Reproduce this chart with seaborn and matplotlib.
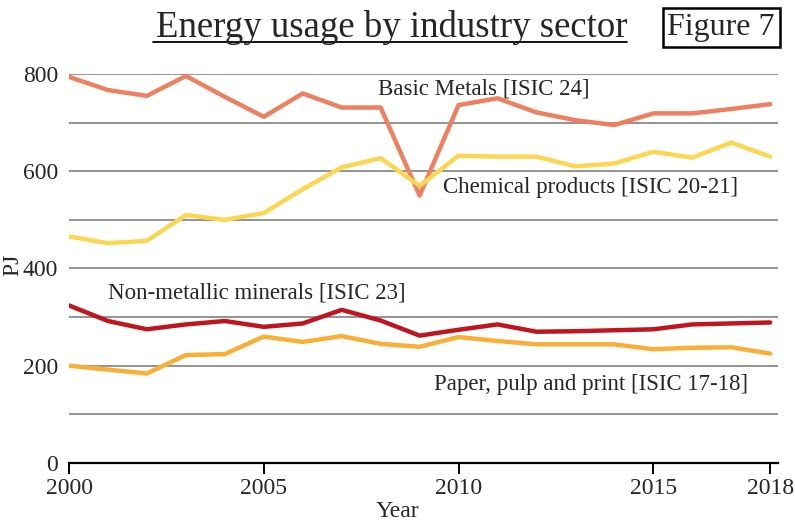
import matplotlib
matplotlib.use("Agg")
import matplotlib.pyplot as plt
import numpy as np
import pandas as pd
import seaborn as sns

years = list(range(2000, 2019))
basic_metals = [794, 767, 755, 796, 753, 712, 760, 731, 731, 550,
                736, 750, 721, 705, 695, 719, 719, 728, 738]
chemical = [466, 452, 457, 510, 500, 514, 563, 608, 627, 570,
            632, 630, 630, 610, 616, 640, 628, 659, 630]
non_metallic = [324, 292, 275, 285, 292, 280, 287, 315, 293, 262,
                274, 285, 270, 271, 273, 275, 285, 287, 289]
paper = [200, 192, 184, 222, 224, 260, 249, 261, 245, 239,
         259, 251, 244, 244, 244, 234, 237, 238, 225]

sectors = ["Basic Metals [ISIC 24]", "Chemical products [ISIC 20-21]",
           "Non-metallic minerals [ISIC 23]", "Paper, pulp and print [ISIC 17-18]"]
colors = ["#EE805F", "#FDD651", "#C0151F", "#F9AF36"]
x_ticks = [2000, 2005, 2010, 2015, 2018]
y_ticks = [0, 200, 400, 600, 800]

df = pd.concat([
    pd.DataFrame({"Year": years, "PJ": vals, "Sector": name})
    for name, vals in zip(sectors, [basic_metals, chemical, non_metallic, paper])
])

sns.set_style("white")
plt.rcParams["font.family"] = ["Liberation Serif", "DejaVu Serif"]

fig = plt.figure(figsize=(7.95, 5.24), dpi=100)
ax = fig.add_axes([0.0868, 0.1164, 0.8918, 0.7424])

for y in range(100, 801, 100):
    ax.axhline(y, color="#8a8a8a", lw=1.3, zorder=0)

sns.lineplot(data=df, x="Year", y="PJ", hue="Sector", palette=colors,
             hue_order=sectors, lw=3.2, legend=False, ax=ax)

ax.set_xlim(2000, 2018.2)
ax.set_ylim(0, 800)
for s in ["top", "right", "left"]:
    ax.spines[s].set_visible(False)
ax.spines["bottom"].set_color("black")
ax.spines["bottom"].set_linewidth(1.6)
ax.set_xticks(x_ticks)
ax.set_yticks(y_ticks)
ax.tick_params(axis="x", bottom=True, direction="out", length=8, width=1.4,
               color="black", labelsize=17, pad=3)
ax.tick_params(axis="y", length=0, labelsize=17, pad=8)
ax.set_xlabel("")
ax.set_ylabel("")
fig.text(0.4994, 0.024, "Year", fontsize=17, ha="center", va="center")
fig.text(0.016, 0.494, "PJ", fontsize=17, ha="center", va="center", rotation=90)

# line labels
ax.text(2007.94, 769, sectors[0], fontsize=16.5, va="center", ha="left")
ax.text(2009.6, 566, sectors[1], fontsize=16.5, va="center", ha="left")
ax.text(2001.0, 349, sectors[2], fontsize=16.5, va="center", ha="left")
ax.text(2009.36, 162, sectors[3], fontsize=16.5, va="center", ha="left")

# title and figure tag
fig.text(0.493, 0.948, "Energy usage by industry sector", fontsize=26.5,
         ha="center", va="center")
fig.add_artist(plt.Line2D([153 / 795, 627 / 795], [1 - 42 / 524, 1 - 42 / 524],
                          color="black", lw=1.3))
fig.text(0.907, 0.948, "Figure 7", fontsize=23, ha="center", va="center",
         bbox=dict(boxstyle="square,pad=0.15", fc="white", ec="black", lw=1.8))

plt.savefig("out.png", dpi=100)
